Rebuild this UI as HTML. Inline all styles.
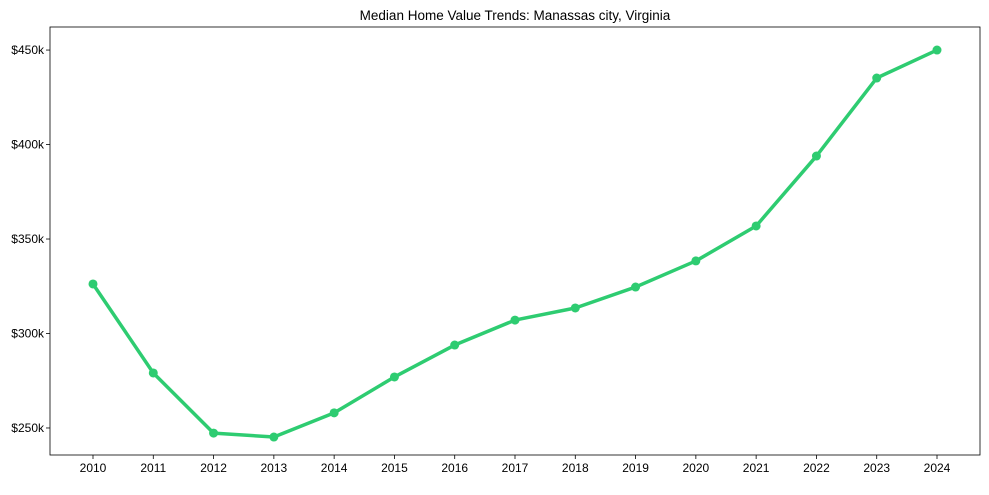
<!DOCTYPE html>
<html><head><meta charset="utf-8"><style>
body{margin:0;background:#fff;width:989px;height:490px;overflow:hidden}
text{font-family:"Liberation Sans",Arial,sans-serif;fill:#000}
</style></head><body>
<svg id="chart" width="989" height="490"></svg>
<script>
const years=["2010","2011","2012","2013","2014","2015","2016","2017","2018","2019","2020","2021","2022","2023","2024"];
const values=[326.2,279.1,247.3,245.2,258,277,293.9,307.1,313.5,324.6,338.4,356.9,393.9,435.2,450];
const yTicks=[250,300,350,400,450];
const yTickLabels=["$250k","$300k","$350k","$400k","$450k"];
const L=50,R=980,T=27,B=455,yMin=235.7,yMax=462.2;
const x0=93,x1=937;
const sx=i=>x0+(x1-x0)*i/(years.length-1);
const sy=v=>B-(v-yMin)/(yMax-yMin)*(B-T);
const svg=document.getElementById('chart');
const NS='http://www.w3.org/2000/svg';
function mk(t,a,p){const e=document.createElementNS(NS,t);for(const k in a)e.setAttribute(k,a[k]);(p||svg).appendChild(e);return e;}
const title=mk('text',{x:515,y:20,'text-anchor':'middle','font-size':'13.5'});title.textContent='Median Home Value Trends: Manassas city, Virginia';


const frame=mk('rect',{x:L,y:T,width:R-L,height:B-T,fill:'none',stroke:'#000','stroke-width':0.8});


yTicks.forEach((v,i)=>{const y=sy(v);
mk('line',{x1:L-4,x2:L,y1:y,y2:y,stroke:'#000','stroke-width':0.8});
const t=mk('text',{x:L-6,y:y+4,'text-anchor':'end','font-size':'12'});t.textContent=yTickLabels[i];

});
years.forEach((yr,i)=>{const x=sx(i);
mk('line',{x1:x,x2:x,y1:B,y2:B+4,stroke:'#000','stroke-width':0.8});
const t=mk('text',{x:x,y:B+17,'text-anchor':'middle','font-size':'12'});t.textContent=yr;

});
const line=mk('polyline',{points:values.map((v,i)=>sx(i)+','+sy(v)).join(' '),fill:'none',stroke:'#2ecc71','stroke-width':3.5,'stroke-linejoin':'round'});


values.forEach((v,i)=>{const c=mk('circle',{cx:sx(i),cy:sy(v),r:4.5,fill:'#2ecc71'});

});
</script>
</body></html>
